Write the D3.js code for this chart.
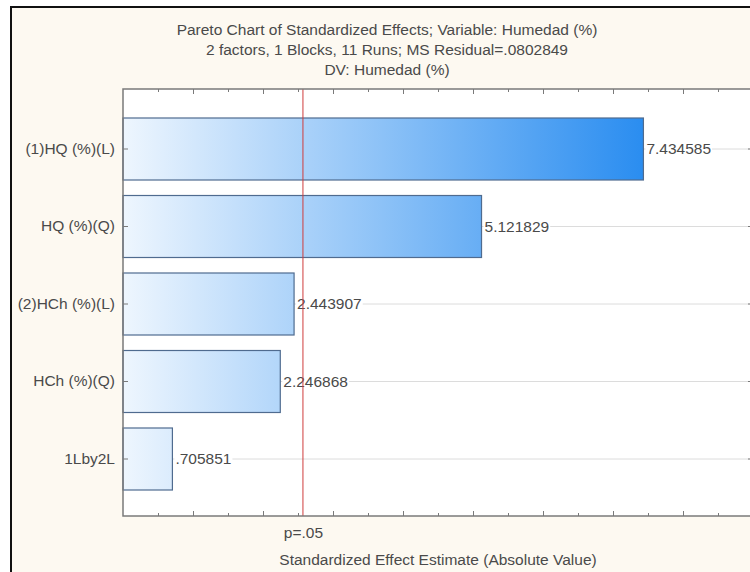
<!DOCTYPE html>
<html>
<head>
<meta charset="utf-8">
<script src="https://cdn.jsdelivr.net/npm/d3@7"></script>
<style>
  html, body { margin: 0; padding: 0; background: #ffffff; }
  svg { display: block; }
  text { font-family: "Liberation Sans", Arial, sans-serif; fill: #4a4a4a; }
</style>
</head>
<body>
<svg id="chart" width="750" height="572"></svg>
<script>
// Pareto chart of standardized effects (Statistica style)
const titleLines = [
  "Pareto Chart of Standardized Effects; Variable: Humedad (%)",
  "2 factors, 1 Blocks, 11 Runs; MS Residual=.0802849",
  "DV: Humedad (%)"
];
const effects = ["(1)HQ (%)(L)", "HQ (%)(Q)", "(2)HCh (%)(L)", "HCh (%)(Q)", "1Lby2L"];
const estimates = [7.434585, 5.121829, 2.443907, 2.246868, 0.705851];
const valueLabels = ["7.434585", "5.121829", "2.443907", "2.246868", ".705851"];
const pCritical = 2.570582;       // t(0.975, df = 5)
const pLabel = "p=.05";
const xTitle = "Standardized Effect Estimate (Absolute Value)";
const xDomain = [0, 9];

const FONT = 15.5;
const TEXT = "#4a4a4a";
const svg = d3.select("#chart");
const W = 750, H = 572;
const plot = { left: 123, right: 753, top: 89, bottom: 516 };

// window frame
svg.append("rect").attr("x", 0).attr("y", 0).attr("width", W).attr("height", H).attr("fill", "#ffffff");
svg.append("rect")
  .attr("x", 11).attr("y", 7).attr("width", W + 20).attr("height", H + 20)
  .attr("fill", "#fdf9f1").attr("stroke", "#111").attr("stroke-width", 2);

const x = d3.scaleLinear().domain(xDomain).range([plot.left, plot.right]);
const y = d3.scaleBand().domain(effects)
  .range([110.25, 497.75]).paddingInner(0.2).paddingOuter(0.1);

// plot area
svg.append("rect")
  .attr("x", plot.left).attr("y", plot.top)
  .attr("width", plot.right - plot.left).attr("height", plot.bottom - plot.top)
  .attr("fill", "#ffffff");

// bar gradient spans the whole value axis
const defs = svg.append("defs");
const grad = defs.append("linearGradient")
  .attr("id", "barGrad").attr("gradientUnits", "userSpaceOnUse")
  .attr("x1", x(0)).attr("x2", x(estimates[0])).attr("y1", 0).attr("y2", 0);
grad.append("stop").attr("offset", "0%").attr("stop-color", "#eef6fe");
grad.append("stop").attr("offset", "100%").attr("stop-color", "#2a8df0");

// horizontal grid at each effect
svg.append("g").selectAll("line").data(effects).join("line")
  .attr("x1", plot.left).attr("x2", plot.right)
  .attr("y1", d => y(d) + y.bandwidth() / 2).attr("y2", d => y(d) + y.bandwidth() / 2)
  .attr("stroke", "#dcdcdc").attr("stroke-width", 1);

// bars
svg.append("g").selectAll("rect").data(effects).join("rect")
  .attr("x", x(0))
  .attr("y", d => y(d))
  .attr("width", (d, i) => x(estimates[i]) - x(0))
  .attr("height", y.bandwidth())
  .attr("fill", "url(#barGrad)")
  .attr("stroke", "#4f6b8f").attr("stroke-width", 1.2);

// value labels
const vl = svg.append("g").selectAll("g").data(effects).join("g")
  .attr("transform", (d, i) => `translate(${x(estimates[i]) + 3},${y(d) + y.bandwidth() / 2})`);
vl.append("text")
  .attr("dy", "0.35em").attr("font-size", FONT)
  .text((d, i) => valueLabels[i]);
vl.each(function () {
  const g = d3.select(this);
  const b = g.select("text").node().getBBox();
  g.insert("rect", "text").attr("x", b.x - 1).attr("y", b.y + 1).attr("width", b.width + 2).attr("height", b.height - 2).attr("fill", "#ffffff");
});

// critical value line
svg.append("line")
  .attr("x1", x(pCritical)).attr("x2", x(pCritical))
  .attr("y1", plot.top).attr("y2", plot.bottom)
  .attr("stroke", "#cf3b3b").attr("stroke-width", 1);

// axes (ticks pointing inward)
const majors = d3.range(1, 9);
const minors = d3.range(0.5, 9, 1);
const axisColor = "#7a7a7a";
function styleAxis(g) {
  g.selectAll(".domain").remove();
  g.selectAll("line").attr("stroke", axisColor);
}
svg.append("g").attr("transform", `translate(0,${plot.bottom})`)
  .call(d3.axisBottom(x).tickValues(majors).tickSize(-5).tickFormat(""))
  .call(styleAxis);
svg.append("g").attr("transform", `translate(0,${plot.bottom})`)
  .call(d3.axisBottom(x).tickValues(minors).tickSize(-3).tickFormat(""))
  .call(styleAxis);
svg.append("g").attr("transform", `translate(0,${plot.top})`)
  .call(d3.axisTop(x).tickValues(majors).tickSize(-5).tickFormat(""))
  .call(styleAxis);
svg.append("g").attr("transform", `translate(0,${plot.top})`)
  .call(d3.axisTop(x).tickValues(minors).tickSize(-3).tickFormat(""))
  .call(styleAxis);

// p=.05 label under the critical line
svg.append("g").attr("transform", `translate(0,${plot.bottom})`)
  .call(d3.axisBottom(x).tickValues([pCritical]).tickSize(0).tickPadding(11).tickFormat(() => pLabel))
  .call(g => g.select(".domain").remove())
  .selectAll("text").attr("font-size", FONT).attr("fill", TEXT).attr("font-family", "Liberation Sans, Arial, sans-serif");

// effect labels on the left, ticks on both sides
svg.append("g").attr("transform", `translate(${plot.left},0)`)
  .call(d3.axisLeft(y).tickSizeInner(-5).tickSizeOuter(0).tickPadding(8))
  .call(styleAxis)
  .selectAll("text").attr("font-size", FONT).attr("fill", TEXT).attr("font-family", "Liberation Sans, Arial, sans-serif");
svg.append("g").attr("transform", `translate(${plot.right},0)`)
  .call(d3.axisRight(y).tickSizeInner(-5).tickSizeOuter(0).tickFormat(""))
  .call(styleAxis);

// plot frame
svg.append("rect")
  .attr("x", plot.left).attr("y", plot.top)
  .attr("width", plot.right - plot.left).attr("height", plot.bottom - plot.top)
  .attr("fill", "none").attr("stroke", axisColor).attr("stroke-width", 1.5);

// titles
svg.append("g").selectAll("text").data(titleLines).join("text")
  .attr("x", 387).attr("y", (d, i) => 35 + i * 20)
  .attr("text-anchor", "middle").attr("font-size", FONT)
  .text(d => d);
svg.append("text")
  .attr("x", (plot.left + plot.right) / 2).attr("y", 565)
  .attr("text-anchor", "middle").attr("font-size", FONT)
  .text(xTitle);
</script>
</body>
</html>
